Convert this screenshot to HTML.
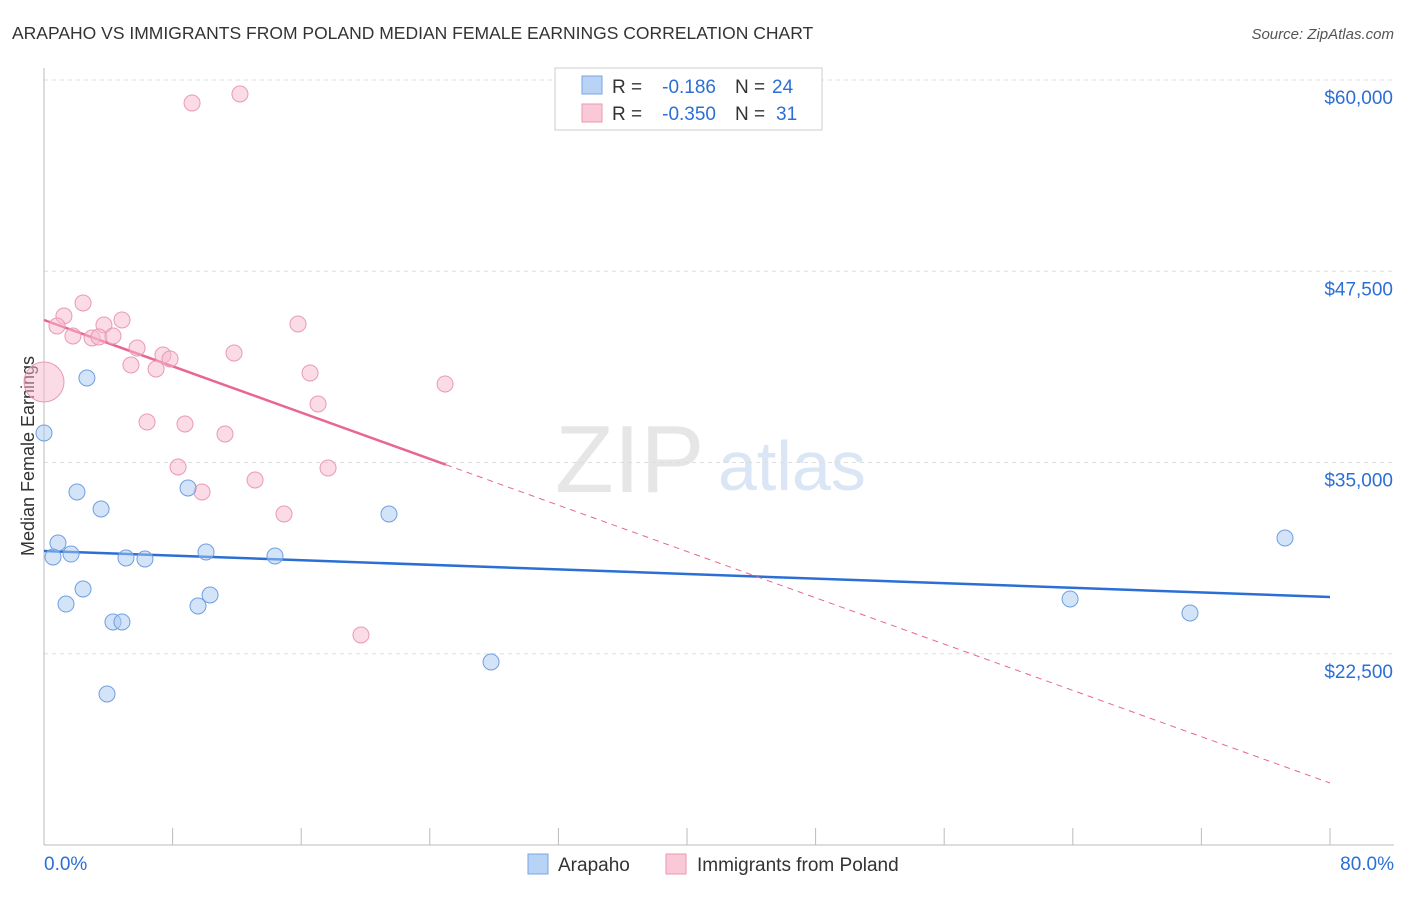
<!DOCTYPE html>
<html><head><meta charset="utf-8"><style>
body{margin:0;background:#fff;font-family:"Liberation Sans",sans-serif;}
svg text{font-family:"Liberation Sans",sans-serif;}
</style></head><body>
<svg id="c" width="1406" height="892" xmlns="http://www.w3.org/2000/svg">
<text x="12" y="39" font-size="17.5" fill="#333">ARAPAHO VS IMMIGRANTS FROM POLAND MEDIAN FEMALE EARNINGS CORRELATION CHART</text>
<text x="1394" y="39" font-size="15" fill="#555" text-anchor="end" font-style="italic">Source: ZipAtlas.com</text>
<text x="34" y="456" font-size="18" fill="#333" text-anchor="middle" transform="rotate(-90 34 456)">Median Female Earnings</text>
<text x="555" y="492" font-size="96" fill="#e6e6e6" font-family="Liberation Serif">ZIP</text>
<text x="718" y="490" font-size="70" fill="#dae6f5">atlas</text>
<g id="grid"></g><g id="trend"></g><g id="pts"></g>
<g>
<rect x="555" y="68" width="267" height="62" fill="#fff" stroke="#ccc"/>
<rect x="582" y="76" width="20" height="18" fill="#b8d3f5" stroke="#7aa6e0"/>
<rect x="582" y="104" width="20" height="18" fill="#f9c9d7" stroke="#e99ab2"/>
<text x="612" y="93" font-size="19" fill="#333">R =</text>
<text x="716" y="93" font-size="19" fill="#2b6fd6" text-anchor="end">-0.186</text>
<text x="735" y="93" font-size="19" fill="#333">N =</text>
<text x="772" y="93" font-size="19" fill="#2b6fd6">24</text>
<text x="612" y="120" font-size="19" fill="#333">R =</text>
<text x="716" y="120" font-size="19" fill="#2b6fd6" text-anchor="end">-0.350</text>
<text x="735" y="120" font-size="19" fill="#333">N =</text>
<text x="776" y="120" font-size="19" fill="#2b6fd6">31</text>
</g>
<g>
<rect x="528" y="854" width="20" height="20" fill="#b8d3f5" stroke="#7aa6e0"/>
<text x="558" y="871" font-size="19" fill="#333">Arapaho</text>
<rect x="666" y="854" width="20" height="20" fill="#f9c9d7" stroke="#e99ab2"/>
<text x="697" y="871" font-size="19" fill="#333">Immigrants from Poland</text>
</g>
</svg>
<script>
const blueX=[0,2.67,2.05,3.55,0.87,0.56,1.68,5.10,6.28,2.43,1.37,4.29,4.85,3.92,8.96,10.08,10.33,9.58,14.37,21.46,27.81,63.83,71.29,77.20];
const blueY=[36928,40523,33072,31961,29738,28823,29019,28758,28693,26732,25751,24575,24575,19869,33333,29150,26340,25621,28889,31634,21961,26078,25163,30065];
const pinkX=[9.21,12.19,2.43,1.24,0.81,4.85,3.73,15.80,1.80,2.99,3.42,4.29,5.79,7.40,7.84,5.41,6.97,11.82,16.55,24.95,17.05,6.41,8.77,11.26,8.34,9.83,13.13,17.67,14.93,19.72,0];
const pinkY=[58497,59085,45425,44575,43922,44314,43987,44052,43268,43137,43203,43268,42484,42026,41765,41372,41111,42157,40850,40131,38823,37647,37516,36863,34706,33072,33856,34641,31634,23725,40261];
const blueTrend=[29215,26209];
const pinkTrend=[44314,14052];
const yTicks=[60000,47500,35000,22500];
const yTickLabels=["$60,000","$47,500","$35,000","$22,500"];
const NS="http://www.w3.org/2000/svg";
const X=v=>44+v/80*1286, Y=v=>80+(60000-v)/50000*765;
function mk(p,t,a){const e=document.createElementNS(NS,t);for(const k in a)e.setAttribute(k,a[k]);p.appendChild(e);return e;}
const g=document.getElementById('grid');
yTicks.forEach((t,i)=>{
 const l=mk(g,'line',{x1:44,x2:1394,y1:Y(t),y2:Y(t),stroke:'#ddd','stroke-dasharray':'4,4'});
 
 
 const tx=mk(g,'text',{x:1393,y:Y(t)+24,'font-size':19,fill:'#2b6fd6','text-anchor':'end'});tx.textContent=yTickLabels[i];
 
 
});
mk(g,'line',{x1:44,x2:44,y1:68,y2:845,stroke:'#bbb'});
mk(g,'line',{x1:44,x2:1394,y1:845,y2:845,stroke:'#bbb'});
for(let i=0;i<=10;i++){const x=X(i*8);mk(g,'line',{x1:x,x2:x,y1:828,y2:845,stroke:'#bbb'});}
let t1=mk(g,'text',{x:44,y:870,'font-size':19,fill:'#2b6fd6'});t1.textContent='0.0%';


let t2=mk(g,'text',{x:1394,y:870,'font-size':19,fill:'#2b6fd6','text-anchor':'end'});t2.textContent='80.0%';


const tr=document.getElementById('trend');
let bl=mk(tr,'line',{x1:X(0),y1:Y(blueTrend[0]),x2:X(80),y2:Y(blueTrend[1]),stroke:'#2b6fd6','stroke-width':2.5});


const pv=x=>pinkTrend[0]+(pinkTrend[1]-pinkTrend[0])*x/80;
let pl=mk(tr,'line',{x1:X(0),y1:Y(pv(0)),x2:X(25),y2:Y(pv(25)),stroke:'#e8668f','stroke-width':2.5});


let pd=mk(tr,'line',{x1:X(25),y1:Y(pv(25)),x2:X(80),y2:Y(pv(80)),stroke:'#e8668f','stroke-width':1,'stroke-dasharray':'6,5'});


const ps=document.getElementById('pts');
pinkX.forEach((x,i)=>{const c=mk(ps,'circle',{cx:X(x),cy:Y(pinkY[i]),r:x===0?20:8,fill:'rgba(248,185,205,0.5)',stroke:'#e99ab2','stroke-width':1});
 
 });
blueX.forEach((x,i)=>{const c=mk(ps,'circle',{cx:X(x),cy:Y(blueY[i]),r:8,fill:'rgba(170,202,242,0.5)',stroke:'#6f9fe0','stroke-width':1});
 
 });
</script>
</body></html>
